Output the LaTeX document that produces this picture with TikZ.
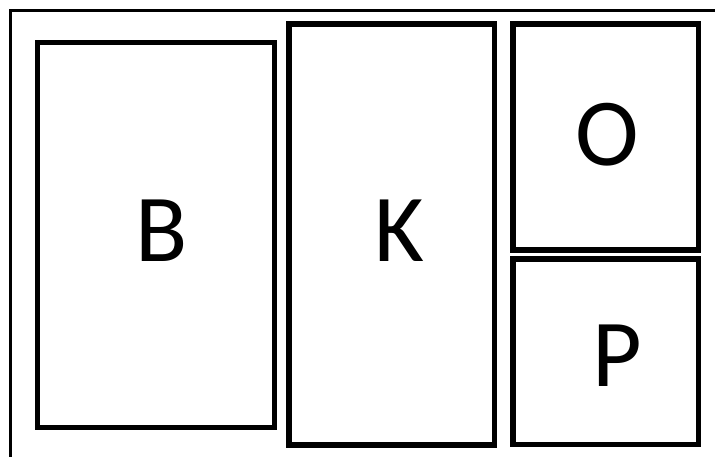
\documentclass[tikz,border=0pt]{standalone}
\usepackage{fontspec}
\setmainfont{Carlito}
\begin{document}
\begin{tikzpicture}[x=1pt,y=1pt,
  box/.style={draw=black,line width=5.5pt,rectangle,inner sep=0pt,outer sep=0pt},
  lbl/.style={inner sep=0pt,outer sep=0pt,font=\fontsize{96}{96}\selectfont},
  frame/.style={draw=black,line width=3pt}]
\fill[white] (0,0) rectangle (715,457);
\useasboundingbox (0,0) rectangle (715,457);
% outer frame (top and left lines)
\coordinate (fBL) at (10.5,0);
\coordinate (fTL) at (10.5,446.5);
\coordinate (fTR) at (715,446.5);
\draw[frame] (fBL) -- (fTL) -- (fTR);
% boxes (y = 457 - image y)
\node[box,minimum width=237pt,minimum height=385pt] (B) at (156,222) {};
\node[box,minimum width=205.5pt,minimum height=421pt] (K) at (391.75,222.5) {};
\node[box,minimum width=185.5pt,minimum height=226pt] (O) at (605.75,320) {};
\node[box,minimum width=185.5pt,minimum height=185.5pt] (P) at (605.75,105.25) {};
% labels
\node[lbl] (lB) at (162,226) {B};
\node[lbl] (lK) at (399,226) {K};
\node[lbl] (lO) at (607,322) {O};
\node[lbl] (lP) at (617,101) {P};
\end{tikzpicture}
\end{document}
